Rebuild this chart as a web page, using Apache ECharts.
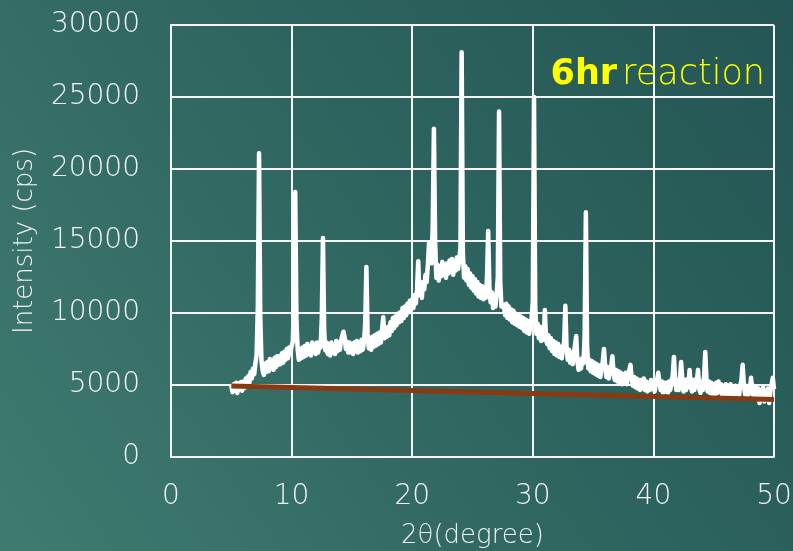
<!DOCTYPE html>
<html>
<head>
<meta charset="utf-8">
<title>XRD pattern – 6hr reaction</title>
<script src="https://cdn.jsdelivr.net/npm/echarts@6/dist/echarts.min.js"></script>
<style>
  html, body { margin: 0; padding: 0; }
  #chart { width: 793px; height: 551px; }
</style>
</head>
<body>
<div id="chart"></div>
<script>
// Powder XRD scan: 2θ from 5.0° to 50.0° in 0.1° steps
const scanStart = 5.0;
const scanStep = 0.1;
const intensity = [
  // 5.0 – 5.9
  4950, 4500, 5050, 4600, 5150, 4450, 5100, 4700, 5200, 4600,
  // 6.0 – 6.9
  5250, 4800, 5450, 5000, 5600, 5150, 5900, 5450, 6150, 5750,
  // 7.0 – 7.9
  6500, 7100, 10500, 21100, 9800, 6700, 6000, 5700, 6500, 5900,
  // 8.0 – 8.9
  6600, 5950, 6800, 6150, 6700, 6050, 6900, 6250, 7000, 6400,
  // 9.0 – 9.9
  7000, 6450, 7200, 6550, 7300, 6750, 7500, 6850, 7600, 7150,
  // 10.0 – 10.9
  7700, 8000, 10800, 18400, 9500, 7500, 6750, 7500, 6850, 7600,
  // 11.0 – 11.9
  6950, 7700, 7050, 7850, 7150, 7650, 7050, 7950, 7250, 7850,
  // 12.0 – 12.9
  7150, 7950, 7250, 7850, 7600, 9500, 15200, 8800, 7400, 7950,
  // 13.0 – 13.9
  7150, 7850, 7050, 7950, 7250, 7750, 7150, 8050, 7350, 7950,
  // 14.0 – 14.9
  7450, 8100, 8400, 8700, 8300, 7500, 8000, 7250, 7950, 7250,
  // 15.0 – 15.9
  7850, 7150, 7950, 7350, 8050, 7250, 7950, 7350, 8150, 7450,
  // 16.0 – 16.9
  7950, 9200, 13200, 8600, 7550, 8250, 7450, 8350, 7650, 8450,
  // 17.0 – 17.9
  7750, 8550, 7850, 8650, 7950, 8800, 9700, 8250, 8950, 8350,
  // 18.0 – 18.9
  9050, 8450, 9350, 8750, 9650, 8950, 9750, 9150, 9950, 9350,
  // 19.0 – 19.9
  10050, 9450, 10350, 9650, 10450, 9850, 10650, 10050, 10850, 10250,
  // 20.0 – 20.9
  10950, 10350, 11250, 10650, 11600, 13600, 11250, 12050, 11050, 12150,
  // 21.0 – 21.9
  11650, 12650, 12150, 13350, 14900, 13800, 13450, 16000, 22800, 15000,
  // 22.0 – 22.9
  12450, 13350, 12250, 13250, 12550, 13550, 12650, 13350, 12450, 13450,
  // 23.0 – 23.9
  12750, 13650, 12850, 13750, 12650, 13550, 12950, 13850, 13050, 13650,
  // 24.0 – 24.9
  14500, 28100, 14200, 12450, 13250, 12250, 13050, 11950, 12750, 11750,
  // 25.0 – 25.9
  12550, 11550, 12350, 11350, 12150, 11150, 11950, 11050, 11850, 10950,
  // 26.0 – 26.9
  11750, 11050, 12400, 15700, 11800, 10750, 11450, 10350, 11250, 10450,
  // 27.0 – 27.9
  11300, 12500, 24000, 12200, 10450, 10350, 10550, 9850, 10650, 9650,
  // 28.0 – 28.9
  10450, 9550, 10250, 9350, 10150, 9250, 9950, 9150, 9850, 9050,
  // 29.0 – 29.9
  9750, 8950, 9650, 8750, 9550, 8650, 9450, 8550, 9150, 9600,
  // 30.0 – 30.9
  10800, 25000, 10500, 8550, 9250, 8250, 9050, 8050, 8850, 8150,
  // 31.0 – 31.9
  10200, 8100, 7850, 8450, 7550, 8250, 7350, 8050, 7150, 7950,
  // 32.0 – 32.9
  7050, 7850, 6950, 7650, 6850, 7550, 8000, 10500, 7600, 6750,
  // 33.0 – 33.9
  7450, 6550, 7250, 6450, 7150, 7100, 8400, 6600, 6050, 6750,
  // 34.0 – 34.9
  6150, 6850, 6500, 8500, 17000, 7800, 6150, 6750, 5950, 6650,
  // 35.0 – 35.9
  5850, 6550, 5750, 6450, 5650, 6350, 5550, 6250, 6600, 7500,
  // 36.0 – 36.9
  6300, 5550, 6250, 5450, 6150, 6300, 7000, 5750, 5350, 6050,
  // 37.0 – 37.9
  5250, 5950, 5150, 5850, 5050, 5750, 5150, 5850, 5050, 5650,
  // 38.0 – 38.9
  5700, 6400, 5450, 4950, 5550, 4850, 5450, 4750, 5350, 4650,
  // 39.0 – 39.9
  5350, 4750, 5450, 4650, 5250, 4550, 5150, 4650, 5350, 4750,
  // 40.0 – 40.9
  5250, 4550, 5100, 5300, 5850, 5150, 4650, 5250, 4450, 5150,
  // 41.0 – 41.9
  4550, 5150, 4450, 5250, 4650, 5300, 5600, 6950, 5300, 4650,
  // 42.0 – 42.9
  5350, 4650, 5400, 6600, 5300, 4550, 5350, 4650, 5400, 4850,
  // 43.0 – 43.9
  6050, 4900, 4550, 5350, 4650, 5400, 5200, 6050, 4750, 4450,
  // 44.0 – 44.9
  5250, 4650, 5600, 7300, 5400, 4550, 5250, 4450, 5150, 4350,
  // 45.0 – 45.9
  5050, 4350, 5150, 4450, 5250, 4550, 5050, 4250, 4950, 4350,
  // 46.0 – 46.9
  5050, 4250, 4950, 4350, 5050, 4150, 4850, 4350, 4950, 4250,
  // 47.0 – 47.9
  4850, 4250, 5000, 5300, 6400, 5000, 4350, 4950, 4150, 4850,
  // 48.0 – 48.9
  4600, 5500, 4350, 4950, 4150, 4850, 4050, 4750, 3750, 4650,
  // 49.0 – 49.9
  4250, 4850, 3850, 4550, 4100, 4750, 3750, 4550, 4600, 5500,
  // 50.0
  4700
];

// Straight background line under the pattern
const baselineAngle = [5, 50];
const baselineIntensity = [4930, 4000];

// Axis ticks
const xTicks = [0, 10, 20, 30, 40, 50];
const yTicks = [0, 5000, 10000, 15000, 20000, 25000, 30000];

const patternData = intensity.map((v, i) => [+(scanStart + i * scanStep).toFixed(1), v]);
const baselineData = baselineAngle.map((a, i) => [a, baselineIntensity[i]]);

const FONT = '"DejaVu Sans", sans-serif';
const TEXT = '#f2f2f2';

const chart = echarts.init(document.getElementById('chart'), null, { renderer: 'canvas' });
chart.setOption({
  animation: false,
  backgroundColor: {
    type: 'linear', x: 1, y: 0, x2: 0, y2: 1,
    colorStops: [
      { offset: 0, color: '#235554' },
      { offset: 0.5, color: '#2f6660' },
      { offset: 1, color: '#3f7b6f' }
    ]
  },
  title: {
    text: '{b|6hr} {n|reaction}',
    right: 28,
    top: 57,
    padding: 0,
    textStyle: {
      rich: {
        b: { color: '#ffff00', fontFamily: FONT, fontWeight: 'bold', fontSize: 35 },
        n: { color: '#ffff00', fontFamily: FONT, fontWeight: 200, fontSize: 35 }
      }
    }
  },
  grid: { left: 171, right: 19, top: 25, bottom: 94, containLabel: false, outerBoundsMode: 'none' },
  xAxis: {
    type: 'value',
    min: xTicks[0],
    max: xTicks[xTicks.length - 1],
    interval: 10,
    name: '2θ(degree)',
    nameLocation: 'middle',
    nameGap: 66,
    nameTextStyle: { color: TEXT, fontFamily: FONT, fontWeight: 200, fontSize: 26 },
    axisLine: { show: true, lineStyle: { color: '#f4f4f4', width: 2 } },
    axisTick: { show: false },
    axisLabel: { color: TEXT, fontFamily: FONT, fontWeight: 200, fontSize: 28, margin: 26 },
    splitLine: { show: true, lineStyle: { color: '#f4f4f4', width: 2 } }
  },
  yAxis: {
    type: 'value',
    min: yTicks[0],
    max: yTicks[yTicks.length - 1],
    interval: 5000,
    name: 'Intensity (cps)',
    nameLocation: 'middle',
    nameGap: 133,
    nameRotate: 90,
    nameTextStyle: { color: TEXT, fontFamily: FONT, fontWeight: 200, fontSize: 26 },
    axisLine: { show: true, lineStyle: { color: '#f4f4f4', width: 2 } },
    axisTick: { show: false },
    axisLabel: {
      color: TEXT, fontFamily: FONT, fontWeight: 200, fontSize: 28, margin: 31,
      formatter: (v) => String(v)
    },
    splitLine: { show: true, lineStyle: { color: '#f4f4f4', width: 2 } }
  },
  series: [
    {
      name: '6hr reaction',
      type: 'line',
      data: patternData,
      showSymbol: false,
      sampling: 'none',
      lineStyle: { color: '#ffffff', width: 4.5, join: 'round' },
      z: 3
    },
    {
      name: 'background',
      type: 'line',
      data: baselineData,
      showSymbol: false,
      lineStyle: { color: '#8a3a12', width: 5 },
      z: 4
    }
  ]
});
</script>
</body>
</html>
